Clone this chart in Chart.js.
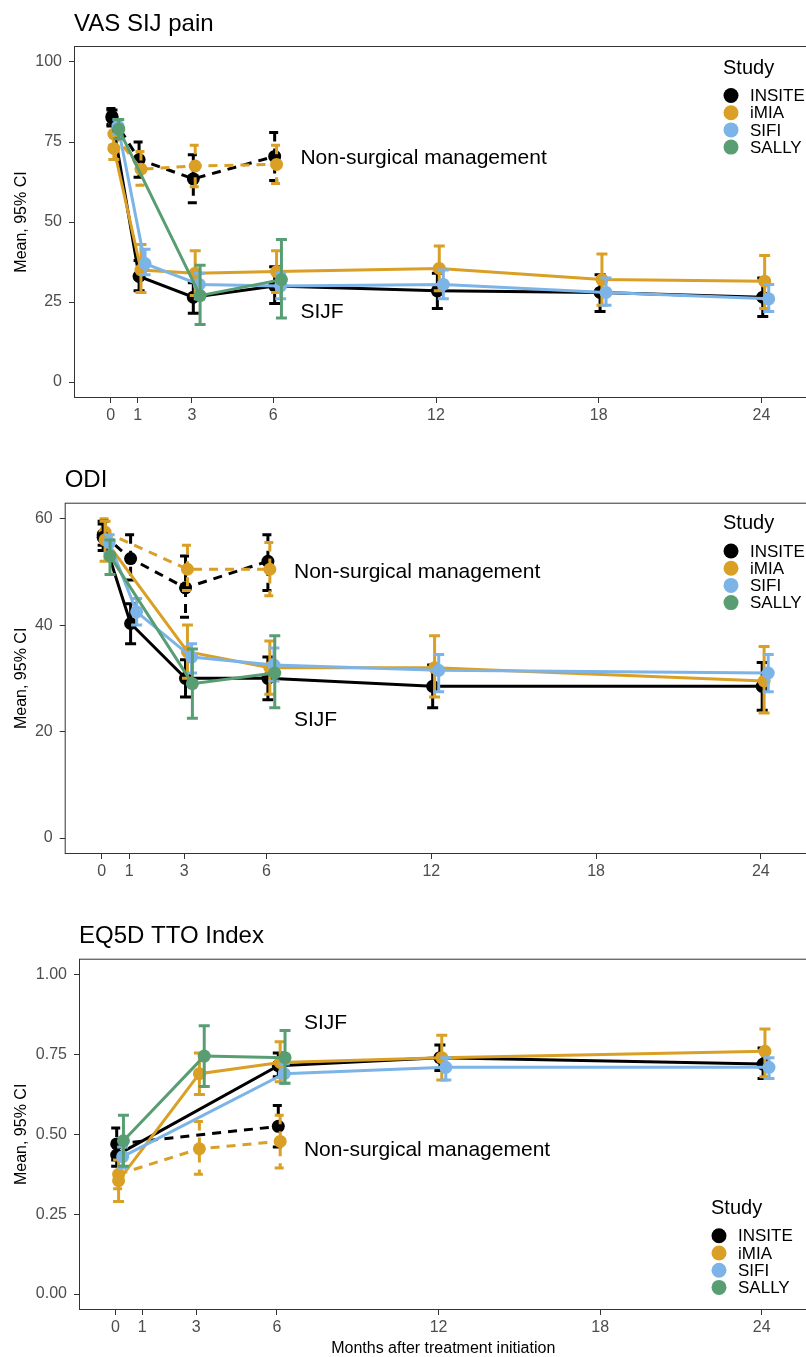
<!DOCTYPE html>
<html>
<head>
<meta charset="utf-8">
<script src="https://cdn.jsdelivr.net/npm/chart.js@4"></script>
<style>
  html, body { margin: 0; padding: 0; width: 806px; height: 1357px; overflow: hidden; background: #fff; }
  canvas { position: absolute; left: 0; }
</style>
</head>
<body>
<canvas id="vas" width="814" height="452" style="top:0"></canvas>
<canvas id="odi" width="814" height="452" style="top:452px"></canvas>
<canvas id="eq5d" width="814" height="460" style="top:904px"></canvas>
<script>
const months = [0, 1, 3, 6, 12, 18, 24];
const studies = ['INSITE', 'iMIA', 'SIFI', 'SALLY'];
const colors = ['#000000', '#D9A025', '#7CB4E7', '#589E72'];
const dodge = [0.05, 0.12, 0.27, 0.3];

// [mean, lower, upper] per month, null = not measured
const vasInsite = [[82.5, 80, 85], [33, 28.5, 38], [26.5, 21.5, 31], [30, 24.5, 36], [28.5, 23, 34], [28, 22, 33.5], [26.5, 20.5, 32.5]];
const vasImia = [[73, 69.5, 77], [35, 28, 43], [34, 27, 41], [34.5, 28, 41], [35.5, 28.5, 42.5], [32, 24, 40], [31.5, 23, 39.5]];
const vasSifi = [[80, 77.5, 82], [37, 33.5, 41.5], [30.5, 26, 34], [30, 26, 34], [30.5, 26, 35], [28, 24, 32.5], [26, 22, 30.5]];
const vasSally = [[79, 76, 82], null, [27, 18, 36.5], [32, 20, 44.5], null, null, null];
const vasInsiteNsm = [[83, 80.5, 85.5], [69.5, 64, 75], [63.5, 56, 71], [70.5, 63, 78], null, null, null];
const vasImiaNsm = [[77.5, 74, 81], [66.5, 61.5, 72], [67.5, 61, 74], [68, 62, 74], null, null, null];

const odiInsite = [[56.5, 54, 59.5], [40.3, 36.5, 44], [30, 26.5, 33.5], [30, 26, 34], [28.5, 24.5, 32.5], null, [28.5, 24, 33]];
const odiImia = [[56, 52, 59.5], null, [35, 30, 40], [32, 27, 37], [32, 26.5, 38], null, [29.5, 23.5, 36]];
const odiSifi = [[55.5, 53.5, 57], [42.5, 40, 45], [34, 31, 36.5], [32.5, 29.5, 35.7], [31.5, 27.5, 34.5], null, [31, 27.5, 34.5]];
const odiSally = [[53, 49.5, 56], null, [29, 22.5, 35.5], [31, 24.5, 38], null, null, null];
const odiInsiteNsm = [[57, 55, 59], [52.5, 48.5, 57], [47, 41.5, 53], [52, 46.5, 57], null, null, null];
const odiImiaNsm = [[57.5, 55.5, 60], null, [50.5, 46.5, 55], [50.5, 45.5, 55.5], null, null, null];

const eqInsite = [[0.435, 0.40, 0.47], null, null, [0.715, 0.68, 0.755], [0.74, 0.70, 0.78], null, [0.72, 0.675, 0.77]];
const eqImia = [[0.355, 0.29, 0.42], null, [0.69, 0.625, 0.755], [0.725, 0.665, 0.79], [0.74, 0.67, 0.81], null, [0.76, 0.68, 0.83]];
const eqSifi = [[0.43, 0.395, 0.46], null, null, [0.69, 0.66, 0.72], [0.71, 0.67, 0.74], null, [0.71, 0.675, 0.74]];
const eqSally = [[0.48, 0.40, 0.56], null, [0.745, 0.65, 0.84], [0.74, 0.66, 0.825], null, null, null];
const eqInsiteNsm = [[0.47, 0.42, 0.52], null, null, [0.525, 0.46, 0.59], null, null, null];
const eqImiaNsm = [[0.375, 0.33, 0.44], null, [0.455, 0.375, 0.54], [0.478, 0.395, 0.56], null, null, null];

const FONT = '"Liberation Sans", Arial, sans-serif';

function series(arr, s, nsm) {
  return {
    label: studies[s] + (nsm ? ' non-surgical' : ' SIJF'),
    data: arr.map((v, i) => v ? { x: months[i] + dodge[s], y: v[0], lo: v[1], hi: v[2] } : null).filter(Boolean),
    borderColor: colors[s],
    backgroundColor: colors[s],
    pointBackgroundColor: colors[s],
    borderWidth: 3,
    borderDash: nsm ? [9, 7] : [],
    pointRadius: 6.5,
    pointHoverRadius: 6.5,
    pointBorderWidth: 0,
    tension: 0,
    order: (nsm ? 8 : 4) - s
  };
}

// error bars, frame, titles, notes and legend
const decor = {
  id: 'decor',
  afterDatasetDraw(chart, args) {
    const ds = chart.data.datasets[args.index];
    const { ctx, scales: { x, y } } = chart;
    ctx.save();
    ctx.strokeStyle = ds.borderColor;
    ctx.lineWidth = 3;
    ctx.setLineDash(ds.borderDash);
    ds.data.forEach(p => {
      const px = x.getPixelForValue(p.x);
      const hi = y.getPixelForValue(p.hi), lo = y.getPixelForValue(p.lo);
      ctx.beginPath();
      ctx.moveTo(px - 5.5, hi); ctx.lineTo(px + 5.5, hi);
      ctx.moveTo(px, hi); ctx.lineTo(px, lo);
      ctx.moveTo(px - 5.5, lo); ctx.lineTo(px + 5.5, lo);
      ctx.stroke();
    });
    ctx.restore();
  },
  afterDraw(chart, args, o) {
    const { ctx, chartArea: a, scales: { x, y } } = chart;
    ctx.save();
    ctx.strokeStyle = '#333';
    ctx.lineWidth = 1;
    ctx.strokeRect(a.left + 0.5, a.top + 0.5, a.right - a.left - 1, a.bottom - a.top - 1);

    ctx.fillStyle = '#000';
    ctx.textAlign = 'left';
    ctx.textBaseline = 'alphabetic';
    ctx.font = '24px ' + FONT;
    ctx.fillText(o.title, a.left, a.top - 15.5);

    ctx.textBaseline = 'middle';
    ctx.font = '21px ' + FONT;
    o.notes.forEach(n => ctx.fillText(n.text, x.getPixelForValue(7), y.getPixelForValue(n.y)));

    const [lx, ly] = o.legend;
    ctx.font = '20px ' + FONT;
    ctx.fillText('Study', lx, ly);
    ctx.font = '17px ' + FONT;
    studies.forEach((s, i) => {
      const cy = ly + 27.5 + 17.2 * i;
      ctx.fillStyle = colors[i];
      ctx.beginPath();
      ctx.arc(lx + 8, cy, 7.5, 0, Math.PI * 2);
      ctx.fill();
      ctx.fillStyle = '#000';
      ctx.fillText(s, lx + 27, cy + 1);
    });
    ctx.restore();
  }
};

function makeChart(id, cfg) {
  new Chart(document.getElementById(id), {
    type: 'line',
    data: { datasets: cfg.datasets },
    options: {
      responsive: false,
      animation: false,
      devicePixelRatio: 1,
      layout: { padding: { top: cfg.padTop, bottom: cfg.padBottom, left: 0, right: 0 } },
      plugins: {
        legend: { display: false },
        tooltip: { enabled: false },
        decor: { title: cfg.title, notes: cfg.notes, legend: cfg.legend }
      },
      scales: {
        x: {
          type: 'linear',
          min: -1.35,
          max: 25.7,
          afterBuildTicks: s => { s.ticks = months.map(v => ({ value: v })); },
          afterFit: s => { s.height = cfg.xHeight; },
          ticks: { font: { family: FONT, size: 16 }, color: '#4D4D4D', padding: 3, maxRotation: 0, autoSkip: false },
          grid: { drawOnChartArea: false, drawTicks: true, tickLength: 5, tickColor: '#333' },
          border: { display: false },
          title: {
            display: !!cfg.xTitle,
            text: cfg.xTitle || '',
            font: { family: FONT, size: 16 },
            color: '#000',
            padding: { top: 0, bottom: 4 }
          }
        },
        y: {
          min: cfg.yMin,
          max: cfg.yMax,
          afterBuildTicks: s => { s.ticks = cfg.yTicks.map(v => ({ value: v })); },
          afterFit: s => { s.width = cfg.yWidth; },
          ticks: {
            font: { family: FONT, size: 16 },
            color: '#4D4D4D',
            padding: 7,
            callback: v => cfg.yFmt(v)
          },
          grid: { drawOnChartArea: false, drawTicks: true, tickLength: 5, tickColor: '#333' },
          border: { display: false },
          title: {
            display: true,
            text: 'Mean, 95% CI',
            font: { family: FONT, size: 16 },
            color: '#000',
            padding: { top: 12, bottom: 0 }
          }
        }
      }
    },
    plugins: [decor]
  });
}

makeChart('vas', {
  title: 'VAS SIJ pain',
  datasets: [
    series(vasInsite, 0), series(vasImia, 1), series(vasSifi, 2), series(vasSally, 3),
    series(vasInsiteNsm, 0, true), series(vasImiaNsm, 1, true)
  ],
  yMin: -5, yMax: 105, yTicks: [0, 25, 50, 75, 100], yFmt: v => String(v),
  yWidth: 74, padTop: 46, padBottom: 14, xHeight: 40,
  notes: [{ text: 'Non-surgical management', y: 70 }, { text: 'SIJF', y: 21.9 }],
  legend: [723, 68]
});

makeChart('odi', {
  title: 'ODI',
  datasets: [
    series(odiInsite, 0), series(odiImia, 1), series(odiSifi, 2), series(odiSally, 3),
    series(odiInsiteNsm, 0, true), series(odiImiaNsm, 1, true)
  ],
  yMin: -3, yMax: 63, yTicks: [0, 20, 40, 60], yFmt: v => String(v),
  yWidth: 64.7, padTop: 50.7, padBottom: 10, xHeight: 40,
  notes: [{ text: 'Non-surgical management', y: 50 }, { text: 'SIJF', y: 22.1 }],
  legend: [723, 71.5]
});

makeChart('eq5d', {
  title: 'EQ5D TTO Index',
  datasets: [
    series(eqInsite, 0), series(eqImia, 1), series(eqSifi, 2), series(eqSally, 3),
    series(eqInsiteNsm, 0, true), series(eqImiaNsm, 1, true)
  ],
  yMin: -0.05, yMax: 1.05, yTicks: [0, 0.25, 0.5, 0.75, 1], yFmt: v => v.toFixed(2),
  yWidth: 79, padTop: 54.7, padBottom: 2, xHeight: 52,
  xTitle: 'Months after treatment initiation',
  notes: [{ text: 'SIJF', y: 0.849 }, { text: 'Non-surgical management', y: 0.449 }],
  legend: [711, 304.3]
});
</script>
</body>
</html>
